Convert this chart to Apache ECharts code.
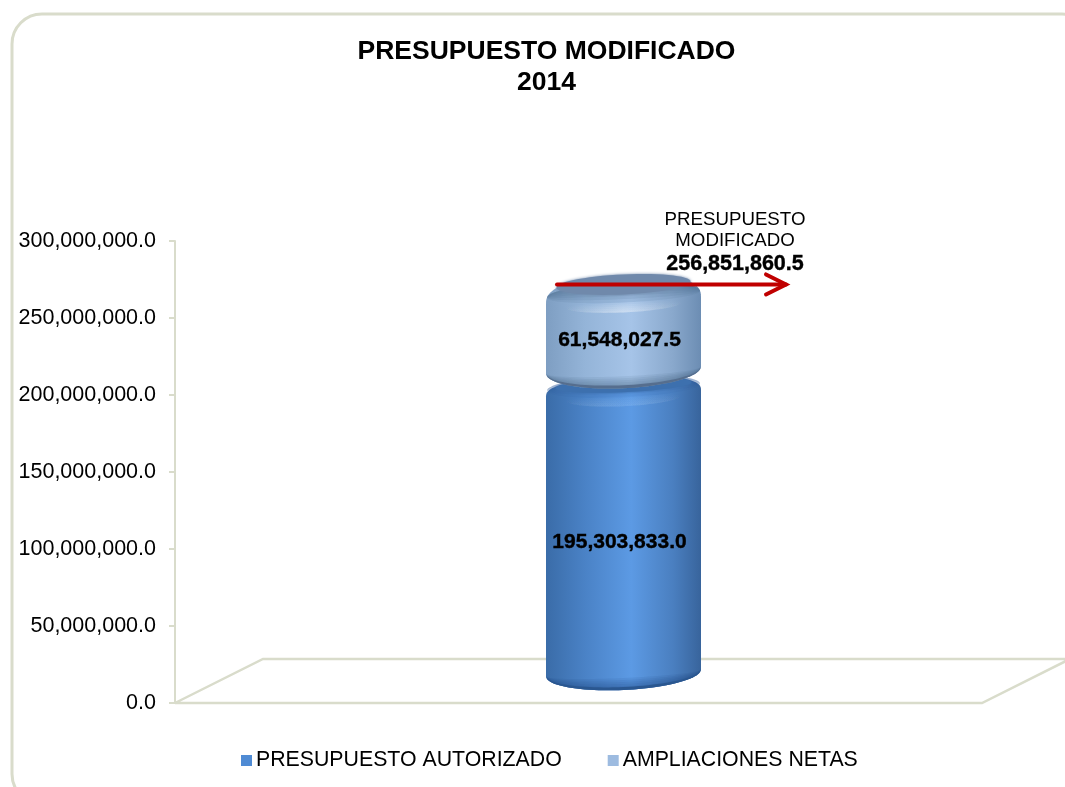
<!DOCTYPE html>
<html>
<head>
<meta charset="utf-8">
<title>Presupuesto modificado 2014</title>
<style>
	html, body { margin: 0; padding: 0; background: #fff; }
	#chart { width: 1065px; height: 787px; }
</style>
<script src="https://cdn.jsdelivr.net/npm/echarts@6/dist/echarts.min.js"></script>
</head>
<body>
<div id="chart"></div>
<script>
// datos
var categories = ['2014'];
var autorizado = [195303833.0];
var ampliaciones = [61548027.5];
var modificado = [256851860.5];
var seriesNames = ['PRESUPUESTO AUTORIZADO', 'AMPLIACIONES NETAS'];
var titleText = 'PRESUPUESTO MODIFICADO\n2014';
var totalText = 'PRESUPUESTO\nMODIFICADO';

var FONT = '"Liberation Sans", Arial, sans-serif';
var LINE = '#d9dccb';
var SLOPE = -0.045;
var DEPTH_X = 3.5; // el piso 3D corre un poco la columna a la derecha
var Grad = echarts.graphic.LinearGradient;

function fmt(v) {
	return v.toLocaleString('en-US', { minimumFractionDigits: 1, maximumFractionDigits: 1 });
}

// la pieza va un poco inclinada: solo se inclinan los extremos
function lean(pts, cx) {
	return pts.map(function (p) { return [p[0], p[1] + (p[0] - cx) * SLOPE]; });
}

// contorno de cilindro con hombros redondeados
function bodyPoints(cx, rx, sideTop, rise, sideBottom, drop) {
	var pts = [], i, t, n = 2.5;
	for (i = 0; i <= 48; i++) {
		t = Math.PI - Math.PI * i / 48;
		var c = Math.cos(t), s = Math.sin(t);
		pts.push([cx + rx * Math.sign(c) * Math.pow(Math.abs(c), 2 / n), sideTop - rise * Math.pow(s, 2 / n)]);
	}
	for (i = 0; i <= 48; i++) {
		t = Math.PI * i / 48;
		pts.push([cx + rx * Math.cos(t), sideBottom + drop * Math.sin(t)]);
	}
	return lean(pts, cx);
}

function ellipsePoints(cx, cy, rx, ry) {
	var pts = [];
	for (var i = 0; i < 60; i++) {
		var t = Math.PI * 2 * i / 60;
		pts.push([cx + rx * Math.cos(t), cy + ry * Math.sin(t)]);
	}
	return lean(pts, cx);
}

// media luna entre dos curvas del frente; en los lados se cierra a cero
function crescent(cx, rx, y, d1, d2) {
	var pts = [], i, t;
	for (i = 0; i <= 48; i++) {
		t = Math.PI * i / 48;
		pts.push([cx + rx * Math.cos(t), y + d1 * Math.sin(t)]);
	}
	for (i = 48; i >= 0; i--) {
		t = Math.PI * i / 48;
		pts.push([cx + rx * Math.cos(t), y + d2 * Math.sin(t)]);
	}
	return lean(pts, cx);
}

// varias medias lunas superpuestas para que el borde quede difuminado
function softCrescent(cx, rx, y, d1, d2, fill, steps) {
	var out = [];
	for (var k = 0; k < steps; k++) {
		out.push({
			type: 'polygon',
			shape: { points: crescent(cx, rx, y, d1, d2 + (d1 - d2) * k / steps) },
			style: { fill: fill }
		});
	}
	return out;
}

function cylinder(api, look) {
	var base = api.coord([api.value(0), api.value(1)]);
	var top = api.coord([api.value(0), api.value(2)]);
	var cx = base[0] + DEPTH_X, rx = 77.5;
	var sideTop = top[1] + look.topOffset;
	var sideBottom = base[1] + look.bottomOffset;
	var pts = bodyPoints(cx, rx, sideTop, look.rise, sideBottom, look.drop);
	var children = [{
		type: 'polygon',
		shape: { points: pts },
		style: { fill: new Grad(0, 0, 1, 0, look.side) }
	}];
	// sombra bajo la tapa y brillo central
	children = children.concat(
		softCrescent(cx, rx - 1, sideTop - 6, -12, look.shadeDrop, look.shoulder, 6),
		softCrescent(cx, rx - 18, sideTop + 4, look.glowDrop + 5, look.glowDrop - 5, new Grad(0, 0, 1, 0, [
			{ offset: 0, color: 'rgba(255,255,255,0)' },
			{ offset: 0.5, color: look.glow },
			{ offset: 1, color: 'rgba(255,255,255,0)' }
		]), 5),
		softCrescent(cx, rx - 0.5, sideBottom, look.drop, look.drop - 12, look.under, 6)
	);
	children.push({
		// borde oscuro inferior
		type: 'polygon',
		shape: { points: crescent(cx, rx - 0.5, sideBottom, look.drop, look.drop - 3) },
		style: { fill: look.rim }
	}, {
		type: 'polygon',
		shape: { points: ellipsePoints(cx, sideTop + look.faceOffset, look.faceRx, look.faceRy) },
		style: { fill: look.face, shadowBlur: 3, shadowColor: look.face }
	}, {
		type: 'text',
		style: {
			text: fmt(api.value(2) - api.value(1)),
			x: cx - 4,
			y: (base[1] + top[1]) / 2 + look.labelOffset,
			align: 'center',
			verticalAlign: 'middle',
			fontFamily: FONT,
			fontWeight: 'bold',
			fontSize: 21,
			fill: '#000',
			stroke: '#000',
			lineWidth: 0.4
		}
	});
	return { type: 'group', children: children };
}

var lookBlue = {
	topOffset: -9, bottomOffset: -30, rise: 16, drop: 17, labelOffset: -10,
	faceOffset: -8, faceRx: 68, faceRy: 7,
	shadeDrop: 10, glowDrop: 4,
	face: '#3d70ae',
	shoulder: 'rgba(45,90,150,0.09)',
	glow: 'rgba(150,195,245,0.06)',
	under: 'rgba(30,70,125,0.1)',
	rim: '#2a5790',
	side: [
		{ offset: 0, color: '#3a6ca8' },
		{ offset: 0.25, color: '#4a82c6' },
		{ offset: 0.55, color: '#5c9ae4' },
		{ offset: 0.82, color: '#4a7fc0' },
		{ offset: 1, color: '#38649c' }
	]
};
var lookLight = {
	topOffset: -7, bottomOffset: -32, rise: 25, drop: 18, labelOffset: -15,
	faceOffset: -16, faceRx: 67, faceRy: 10,
	shadeDrop: 8, glowDrop: 3,
	face: '#7089ab',
	shoulder: 'rgba(75,105,140,0.12)',
	glow: 'rgba(255,255,255,0.1)',
	under: 'rgba(70,95,130,0.1)',
	rim: '#566e8e',
	side: [
		{ offset: 0, color: '#7e9ec2' },
		{ offset: 0.25, color: '#94b4d8' },
		{ offset: 0.55, color: '#a6c4e8' },
		{ offset: 0.82, color: '#89a8cc' },
		{ offset: 1, color: '#6c8db3' }
	]
};

var option = {
	animation: false,
	backgroundColor: '#fff',
	title: {
		text: titleText,
		left: 541.5,
		top: 31,
		textAlign: 'center',
		textStyle: { fontFamily: FONT, fontWeight: 'bold', fontSize: 26.5, lineHeight: 31, color: '#000' }
	},
	legend: {
		data: seriesNames,
		left: 236,
		top: 745,
		itemWidth: 11,
		itemHeight: 11,
		itemGap: 46,
		icon: 'rect',
		textStyle: { fontFamily: FONT, fontSize: 21.3, color: '#000', padding: [0, 0, 0, -1] }
	},
	grid: { left: 175, top: 241, width: 890, height: 462 },
	xAxis: { type: 'category', data: categories, show: false },
	yAxis: {
		type: 'value',
		min: 0,
		max: 300000000,
		interval: 50000000,
		splitLine: { show: false },
		axisLine: { show: true, lineStyle: { color: LINE, width: 2 } },
		axisTick: { show: true, length: 6, lineStyle: { color: LINE, width: 2 } },
		axisLabel: {
			margin: 19,
			fontFamily: FONT,
			fontSize: 21.5,
			color: '#000',
			formatter: fmt
		}
	},
	graphic: [{
		type: 'rect',
		silent: true,
		shape: { x: 12, y: 14, width: 1080, height: 790, r: 30 },
		style: { fill: 'none', stroke: LINE, lineWidth: 3 }
	}, {
		type: 'polyline',
		silent: true,
		shape: { points: [[175, 703], [982, 703], [1070, 659], [263, 659], [175, 703]] },
		style: { fill: 'none', stroke: LINE, lineWidth: 2.5 }
	}],
	series: [{
		type: 'custom',
		name: seriesNames[0],
		itemStyle: { color: '#4f8bd4' },
		encode: { x: 0, y: [1, 2] },
		renderItem: function (params, api) { return cylinder(api, lookBlue); },
		data: categories.map(function (c, i) { return [i, 0, autorizado[i]]; })
	}, {
		type: 'custom',
		name: seriesNames[1],
		itemStyle: { color: '#9dbbe0' },
		encode: { x: 0, y: [1, 2] },
		renderItem: function (params, api) { return cylinder(api, lookLight); },
		data: categories.map(function (c, i) { return [i, autorizado[i], autorizado[i] + ampliaciones[i]]; })
	}, {
		// flecha y total
		type: 'custom',
		name: 'total',
		z: 5,
		encode: { x: 0, y: 1 },
		renderItem: function (params, api) {
			var p = api.coord([api.value(0), api.value(1)]);
			var y = p[1] - 23, x0 = p[0] - 63, x1 = p[0] + 166;
			var arrow = { stroke: '#c00000', lineWidth: 4, fill: 'none', lineCap: 'round' };
			return {
				type: 'group',
				children: [{
					type: 'line',
					shape: { x1: x0, y1: y, x2: x1, y2: y },
					style: arrow
				}, {
					type: 'polyline',
					shape: { points: [[x1 - 20, y - 10], [x1, y], [x1 - 20, y + 10]] },
					style: arrow
				}, {
					type: 'text',
					style: {
						text: totalText,
						x: p[0] + 115,
						y: p[1] - 98.5,
						align: 'center',
						verticalAlign: 'top',
						fontFamily: FONT,
						fontSize: 18.7,
						lineHeight: 21,
						fill: '#000'
					}
				}, {
					type: 'text',
					style: {
						text: fmt(api.value(1)),
						x: p[0] + 115,
						y: p[1] - 43,
						align: 'center',
						verticalAlign: 'middle',
						fontFamily: FONT,
						fontWeight: 'bold',
						fontSize: 21.5,
						fill: '#000',
						stroke: '#000',
						lineWidth: 0.4
					}
				}]
			};
		},
		data: categories.map(function (c, i) { return [i, modificado[i]]; })
	}]
};

var myChart = echarts.init(document.getElementById('chart'));
myChart.setOption(option);
</script>
</body>
</html>
